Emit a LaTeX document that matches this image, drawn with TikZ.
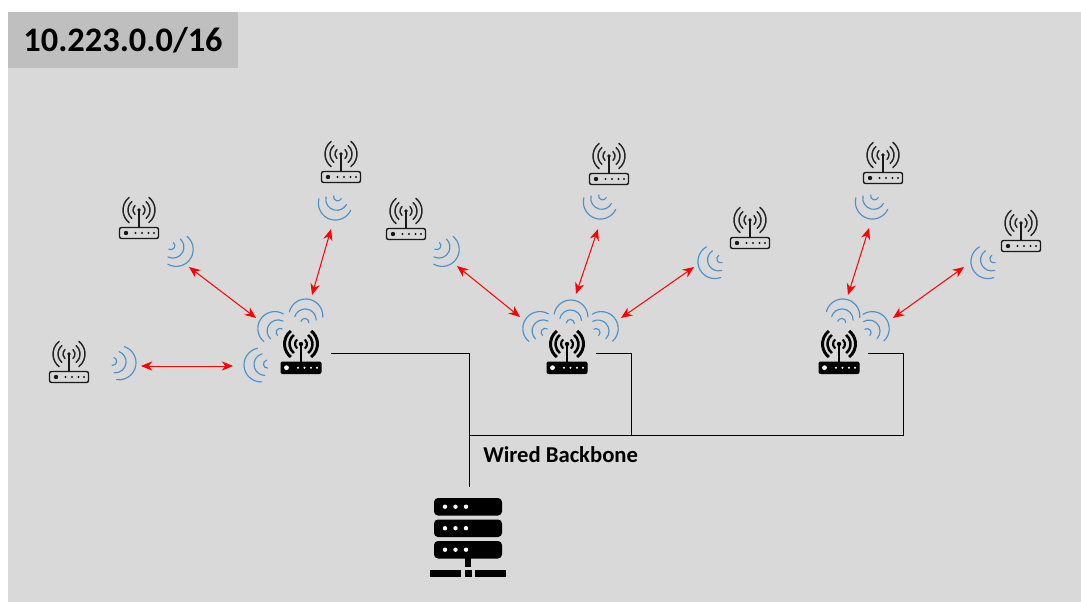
\documentclass[tikz,border=0pt]{standalone}
\usepackage{fontspec}
\setmainfont{Carlito}
\usetikzlibrary{arrows.meta}
\definecolor{bggray}{HTML}{D9D9D9}
\definecolor{titlegray}{HTML}{BFBFBF}
\definecolor{waveblue}{HTML}{4A90CC}
\tikzset{
  x=0.75pt,y=0.75pt,
  wavearc/.style={draw=waveblue,line width=0.85pt,line cap=round},
  link/.style={red,line width=0.75pt,{Stealth[length=8.5pt,width=7pt]}-{Stealth[length=8.5pt,width=7pt]}},
  wire/.style={black,line width=0.75pt},
  pics/wave/.style={code={
    \begin{scope}[shift={(#1:-1)}]
      \draw[wavearc] (#1-85:17) arc[start angle=#1-85,end angle=#1+85,radius=17];
    \end{scope}
    \begin{scope}[shift={(#1:-5)}]
      \draw[wavearc] (#1-82:11) arc[start angle=#1-82,end angle=#1+82,radius=11];
    \end{scope}
    \begin{scope}[shift={(#1:-7.5)}]
      \draw[wavearc] (#1-85:4) arc[start angle=#1-85,end angle=#1+85,radius=4];
    \end{scope}
  }},
  pics/smallrouter/.style={code={
    \draw[black!90,line width=1.05pt,rounded corners=1.5pt] (-19.5,0.5) rectangle (19.5,11.5);
    \fill[black!90] (-13,6) circle (2.2);
    \foreach \dx in {-3.5,3,9.5,15}{\fill[black!90] (\dx,6) circle (1.2);}
    \draw[black!90,line width=1.05pt] (0,11.5) -- (0,29);
    \begin{scope}[shift={(0,29)}]
      \fill[black!90] (0,0) circle (1.8);
      \foreach \r/\a in {6/48,11/50,16/52}{
        \draw[black!85,line width=1.1pt,line cap=round] (-\a:\r) arc[start angle=-\a,end angle=\a,radius=\r];
        \draw[black!85,line width=1.1pt,line cap=round] (180-\a:\r) arc[start angle=180-\a,end angle=180+\a,radius=\r];
      }
    \end{scope}
  }},
  pics/bigrouter/.style={code={
    \fill[black,rounded corners=1.5pt] (-20.5,0) rectangle (20.5,12.5);
    \fill[white] (-14.5,6.3) circle (2.4);
    \foreach \dx in {-3,3.5,10,16}{\fill[white] (\dx,6.3) circle (1.1);}
    \draw[black,line width=1.6pt] (0,12) -- (0,30);
    \fill[black] (0,30) circle (2.2);
    \begin{scope}[shift={(0,30)}]
      \foreach \r/\a/\w in {6/50/1.6pt,11.5/52/1.9pt,16.5/52/2.2pt}{
        \draw[black,line width=\w] (-\a:\r) arc[start angle=-\a,end angle=\a,radius=\r];
        \draw[black,line width=\w] (180-\a:\r) arc[start angle=180-\a,end angle=180+\a,radius=\r];
      }
    \end{scope}
  }},
}
\begin{document}
\begin{tikzpicture}
\path[use as bounding box] (0,0) rectangle (1081,-602);
\fill[white] (0,0) rectangle (1081,-602);
\fill[bggray] (8,-12) rectangle (1081,-602);
\node[fill=titlegray,minimum width=172.5pt,minimum height=42pt,inner sep=0pt] (title) at (123,-40) {};
\node[font=\bfseries\fontsize{25.8}{26}\selectfont,inner sep=0pt] (titletext) at (123,-40) {10.223.0.0/16};

% small routers
\foreach \n/\x/\y in {sa/69/383,sb/139/239,sc/341/183,sd/406/240,se/609/185,sf/750/249,sg/883/184,sh/1021/252}{
  \pic (\n) at (\x,-\y) {smallrouter};
}
% big routers
\foreach \n/\x/\y in {ba/301/374,bb/567/374,bc/839/374}{
  \pic (\n) at (\x,-\y) {bigrouter};
}
% waves
\foreach \x/\y/\d in {260/365/187,274/328/145,306/315/81,
  120/363/-13,177/250/-35,335/204/250,
  539/328/145,571/316/85,602/328/37,
  443/250/-35,600/203/250,714/262/205,
  843/315/80,873/328/38,
  872/203/250,987/262/205}{
  \pic at (\x,-\y) {wave=\d};
}

% red links
\coordinate (a1) at (189,-267); \coordinate (a2) at (256,-318);
\coordinate (b1) at (331,-229); \coordinate (b2) at (312,-295);
\coordinate (c1) at (141,-366); \coordinate (c2) at (233,-366);
\coordinate (d1) at (457,-266); \coordinate (d2) at (520,-317);
\coordinate (e1) at (598,-229); \coordinate (e2) at (576,-294);
\coordinate (f1) at (694,-267); \coordinate (f2) at (621,-318);
\coordinate (g1) at (869,-228); \coordinate (g2) at (848,-295);
\coordinate (h1) at (964,-267); \coordinate (h2) at (893,-318);
\foreach \p/\q in {a1/a2,b1/b2,c1/c2,d1/d2,e1/e2,f1/f2,g1/g2,h1/h2}{
  \draw[link] (\p) -- (\q);
}

% wires
\coordinate (w1) at (331,-353);
\coordinate (w2) at (596,-353);
\coordinate (w3) at (868,-353);
\coordinate (trunkL) at (469,-435);
\coordinate (srv) at (469,-487);
\draw[wire] (w1) -| (srv);
\draw[wire] (w2) -| (631,-435);
\draw[wire] (w3) -| (903,-435) -- (trunkL);

\node[font=\bfseries\fontsize{17}{17}\selectfont,anchor=base west,inner sep=0pt] (backbone) at (483,-462) {Wired Backbone};

% server
\foreach \t in {498,519.5,541}{
  \fill[black,rounded corners=3pt] (434,-\t) rectangle (502,-\t-17.5);
  \foreach \dx in {445,455.5,466}{\fill[white] (\dx,-\t-8.7) circle (2.2);}
}
\fill[black] (465,-558) rectangle (471,-567);
\fill[black] (430,-570) rectangle (461,-577);
\fill[black] (465,-570) rectangle (472,-577);
\fill[black] (475,-570) rectangle (506,-577);
\end{tikzpicture}
\end{document}
